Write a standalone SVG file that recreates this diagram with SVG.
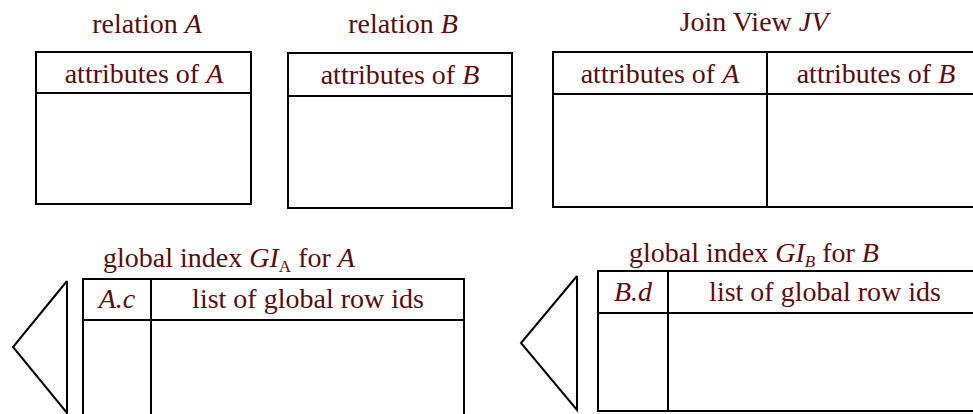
<svg xmlns="http://www.w3.org/2000/svg" width="973" height="414" viewBox="0 0 973 414">
<style>
text{font-family:"Liberation Serif","Times New Roman","DejaVu Serif",serif;font-size:28px;fill:#5a0c0c;text-anchor:middle}
.i{font-style:italic}
.sub{font-size:17px}
.box{fill:none;stroke:#000;stroke-width:2}
.ln{stroke:#000;stroke-width:2}
.tri{fill:none;stroke:#000;stroke-width:2;stroke-linejoin:miter}
</style>
<rect width="973" height="414" fill="#fff"/>
<g id="relA">
<text x="147" y="33">relation <tspan class="i">A</tspan></text>
<rect class="box" x="36" y="52" width="215" height="152"/>
<line class="ln" x1="36" y1="93" x2="251" y2="93"/>
<text x="144" y="83">attributes of <tspan class="i">A</tspan></text>
</g>
<g id="relB">
<text x="403" y="33">relation <tspan class="i">B</tspan></text>
<rect class="box" x="288" y="53" width="224" height="155"/>
<line class="ln" x1="288" y1="96" x2="512" y2="96"/>
<text x="400" y="84">attributes of <tspan class="i">B</tspan></text>
</g>
<g id="jv">
<text x="754" y="31">Join View <tspan class="i">JV</tspan></text>
<rect class="box" x="553" y="52" width="440" height="155"/>
<line class="ln" x1="553" y1="94" x2="993" y2="94"/>
<line class="ln" x1="767" y1="52" x2="767" y2="207" stroke-width="2.5"/>
<text x="660" y="83">attributes of <tspan class="i">A</tspan></text>
<text x="876" y="83">attributes of <tspan class="i">B</tspan></text>
</g>
<g id="giA">
<text x="229" y="267">global index <tspan class="i">GI</tspan><tspan class="sub" dy="5">A</tspan><tspan dy="-5"> for </tspan><tspan class="i">A</tspan></text>
<polyline class="tri" points="67,281 13,347 67,413 67,281"/>
<rect class="box" x="83" y="279" width="381" height="160"/>
<line class="ln" x1="83" y1="320" x2="464" y2="320"/>
<line class="ln" x1="151" y1="279" x2="151" y2="420"/>
<text x="117" y="308" class="i">A.c</text>
<text x="308" y="308">list of global row ids</text>
</g>
<g id="giB">
<text x="754" y="262">global index <tspan class="i">GI</tspan><tspan class="sub i" dy="5">B</tspan><tspan dy="-5"> for </tspan><tspan class="i">B</tspan></text>
<polyline class="tri" points="577,276 521,343 577,410 577,276"/>
<rect class="box" x="598" y="271" width="400" height="140"/>
<line class="ln" x1="598" y1="313" x2="998" y2="313"/>
<line class="ln" x1="668" y1="271" x2="668" y2="411" stroke-width="2.5"/>
<text x="633" y="301" class="i">B.d</text>
<text x="825" y="301">list of global row ids</text>
</g>
<g id="connectors"></g>
</svg>
